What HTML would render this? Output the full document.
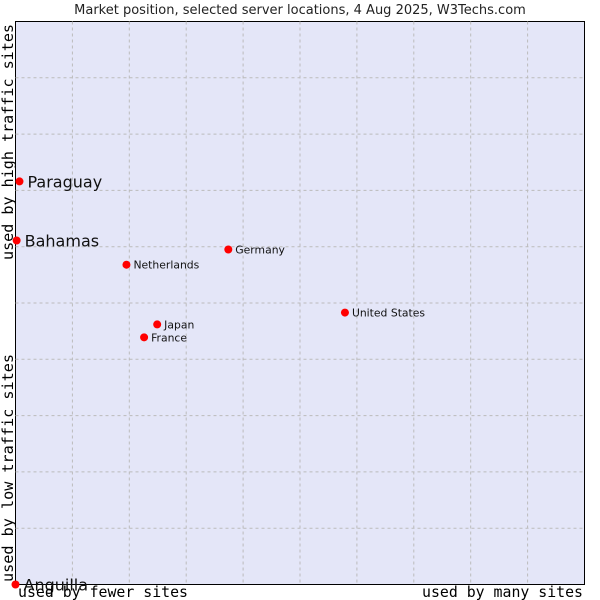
<!DOCTYPE html>
<html><head><meta charset="utf-8"><style>
body{margin:0;background:#fff;}
svg{display:block;font-family:"DejaVu Sans","Liberation Sans",sans-serif;}
</style></head><body>
<svg id="chart" width="600" height="600">
<text x="300" y="14" text-anchor="middle" font-size="13" fill="#222">Market position, selected server locations, 4 Aug 2025, W3Techs.com</text>
<rect x="15.5" y="21.5" width="569" height="563" fill="#e4e6f8" stroke="#000"/>
<g id="grid"></g>
<g id="marks"></g>
<text x="18" y="597" textLength="170" lengthAdjust="spacingAndGlyphs" font-family="DejaVu Sans Mono, monospace" font-size="15" fill="#000">used by fewer sites</text>
<text x="422" y="597" textLength="161" lengthAdjust="spacingAndGlyphs" font-family="DejaVu Sans Mono, monospace" font-size="15" fill="#000">used by many sites</text>
<text transform="translate(13,582) rotate(-90)" textLength="228" lengthAdjust="spacingAndGlyphs" font-family="DejaVu Sans Mono, monospace" font-size="15" fill="#000">used by low traffic sites</text>
<text transform="translate(13,260) rotate(-90)" textLength="236" lengthAdjust="spacingAndGlyphs" font-family="DejaVu Sans Mono, monospace" font-size="15" fill="#000">used by high traffic sites</text>
</svg>
<script>
const countries=["Paraguay","Bahamas","Netherlands","Germany","United States","Japan","France","Anguilla"];
const xValues=[0.7,0.2,19.5,37.4,57.9,24.9,22.6,0];
const yValues=[71.6,61.1,56.8,59.5,48.3,46.2,43.9,0];
const bigLabel=[true,true,false,false,false,false,false,true];
const NS="http://www.w3.org/2000/svg";
const X0=15.5,X1=584.5,Y0=584.5,Y1=21.5;
const sx=v=>X0+v/100*(X1-X0);
const sy=v=>Y0-v/100*(Y0-Y1);
const grid=document.getElementById('grid');
for(let i=1;i<10;i++){
  const l=document.createElementNS(NS,'line');
  
  
  const x=sx(i*10);
  l.setAttribute('x1',x);l.setAttribute('x2',x);l.setAttribute('y1',Y1);l.setAttribute('y2',Y0);
  l.setAttribute('stroke','#bbbbbb');l.setAttribute('stroke-dasharray','3,3');
  grid.appendChild(l);
  const h=document.createElementNS(NS,'line');
  
  
  const y=sy(i*10);
  h.setAttribute('x1',X0);h.setAttribute('x2',X1);h.setAttribute('y1',y);h.setAttribute('y2',y);
  h.setAttribute('stroke','#bbbbbb');h.setAttribute('stroke-dasharray','3,3');
  grid.appendChild(h);
}
const marks=document.getElementById('marks');
countries.forEach((c,i)=>{
  const x=sx(xValues[i]),y=sy(yValues[i]);
  const p=document.createElementNS(NS,'circle');
  
  
  p.setAttribute('cx',x);p.setAttribute('cy',y);p.setAttribute('r',4);p.setAttribute('fill','#f00');
  marks.appendChild(p);
  const t=document.createElementNS(NS,'text');
  
  
  t.setAttribute('x',x+(bigLabel[i]?8:7));
  t.setAttribute('y',y+(bigLabel[i]?6:4));
  t.setAttribute('font-size',bigLabel[i]?16:10.8);
  t.setAttribute('fill','#111');
  t.textContent=c;
  marks.appendChild(t);
});
</script>
</body></html>
